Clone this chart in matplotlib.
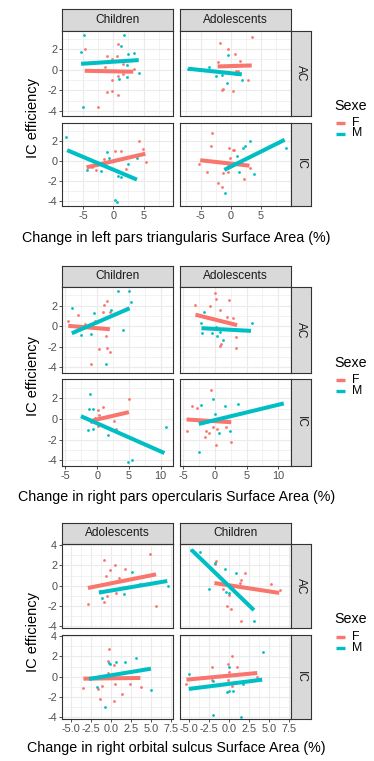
import matplotlib.pyplot as plt
from matplotlib.lines import Line2D

W, H = 374, 761
F_COL = "#F8766D"
M_COL = "#00BFC4"
GRID = "#EBEBEB"
DARK = "#333333"
FONT = "Liberation Sans"

# ================= DATA =================
# each entry: ([x ...], [y ...]); fits: ([x0, x1], [y0, y1])

# --- left pars triangularis ---
tri_ac_child_m = ([-4.9, 1.8, -5.3, 1.2, 2.4, 3.5, 2.2, 4.3, 1.0, 2.3, -5.0],
                  [3.4, 3.4, 1.68, 2.3, 1.5, 1.6, 0.48, -0.35, -0.87, -0.74, -3.65])
tri_ac_child_f = ([-4.7, 0.72, -1.1, 0.67, -0.17, 1.67, -1.28, 3.44, 1.67, 0.83, -0.28, -1.1, -0.28, 0.72, -2.5],
                  [2.03, 2.48, 1.29, 1.35, 1.03, 0.58, 0.23, 0.1, -0.39, -0.58, -0.97, -2.13, -2.03, -2.48, -3.65])
tri_ac_child_m_fit = ([-5.3, 4.2], [0.58, 0.94])
tri_ac_child_f_fit = ([-4.7, 3.3], [-0.10, -0.19])

tri_ac_ado_m = ([-7.2, -0.56, -3.6, -2.4, -1.56, -0.67, 0.89, 1.83],
                [0.05, 1.39, 0.23, -0.58, -0.55, -1.29, -0.42, -0.97])
tri_ac_ado_f = ([-1.83, 3.44, -0.44, 0.72, 1.5, -2.2, 0.0, 0.83, 1.1, 2.78, -1.4, -1.5, 0.39],
                [2.58, 3.16, 2.0, 1.58, 0.9, 0.74, 0.42, -0.16, -0.16, -1.03, -1.84, -1.97, -2.1])
tri_ac_ado_m_fit = ([-7.1, 1.8], [0.10, -0.45])
tri_ac_ado_f_fit = ([-2.2, 3.44], [0.32, 0.42])

tri_ic_child_m = ([-7.8, -4.4, -2.06, -1.1, -0.7, 3.9, 2.4, 0.83, 1.28, 0.28, 0.67],
                  [2.35, -0.9, -0.97, 0.9, 0.26, 0.26, -0.32, -1.55, -1.6, -3.94, -4.1])
tri_ic_child_f = ([4.17, 4.83, 5.4, 0.28, 1.28, -1.5, -2.8, -3.5, 2.1, -1.67],
                  [1.94, 1.19, -0.16, 0.97, 0.94, 0.16, -0.9, -0.65, -0.8, -0.3])
tri_ic_child_m_fit = ([-7.6, 3.9], [1.06, -1.87])
tri_ic_child_f_fit = ([-4.4, 5.3], [-0.65, 0.71])

tri_ic_ado_m = ([1.0, 1.94, 2.4, 3.17, 1.39, 3.78, 9.2, -1.0],
                [0.45, 1.23, 1.45, 1.94, -1.13, -1.35, 1.29, -3.23])
tri_ic_ado_f = ([-3.17, -3.33, -4.0, -0.28, 0.28, 0.56, -0.11, -0.56, -1.39, -0.44, -2.2, -1.56, 2.1, 3.1, -5.3],
                [2.8, 1.45, -1.13, 1.23, 1.06, 1.06, 0.26, -0.32, -1.23, -1.13, -2.2, -2.58, -1.77, -0.71, -0.32])
tri_ic_ado_m_fit = ([-1.1, 8.9], [-0.9, 2.1])
tri_ic_ado_f_fit = ([-5.1, 3.06], [0.06, -0.48])

# --- right pars opercularis ---
op_ac_child_m = ([3.35, 5.0, 5.3, -4.0, -0.47, 2.25, 4.1, -2.5, -1.0, 1.36],
                 [3.4, 3.4, 2.38, 1.73, 1.27, 1.57, -0.36, -0.88, -0.78, -3.7])
op_ac_child_f = ([-4.55, -3.1, 1.47, 1.15, 0.84, 2.0, -1.9, -0.3, 1.36, 1.6, 2.0, 0.3, -0.9],
                 [0.46, 1.1, 2.48, 2.06, 1.34, 1.34, 0.2, 0.5, -0.95, -2.1, -2.5, -2.2, -3.66])
op_ac_child_m_fit = ([-4.0, 5.1], [-0.69, 1.73])
op_ac_child_f_fit = ([-4.55, 2.0], [0.03, -0.3])

op_ac_ado_m = ([-1.78, -2.15, -2.0, -0.47, 0.2, 0.73, 0.37, 1.26, 5.8],
               [1.4, 0.26, -0.69, -0.62, -0.07, -0.56, -0.95, -1.34, 0.29])
op_ac_ado_f = ([-0.05, 0.1, 2.2, -3.2, -0.84, 0.84, 1.94, 2.9, 3.35, 3.25, 0.84, 1.0],
               [3.2, 2.6, 2.55, 2.06, 2.0, 1.6, 0.92, 0.75, -1.1, -2.12, -1.93, -1.76])
op_ac_ado_m_fit = ([-2.15, 5.7], [-0.2, -0.46])
op_ac_ado_f_fit = ([-3.1, 3.5], [1.11, 0.1])

op_ic_child_m = ([-1.1, -1.26, -0.63, -1.5, -0.73, 1.73, 10.8, 4.9, 5.45],
                 [2.37, 0.91, 0.91, -1.04, -0.97, -1.56, -0.81, -4.16, -4.0])
op_ic_child_f = ([5.0, 0.84, 0.1, 0.3, -0.42, -1.0, 0.05, 2.67, 2.9],
                 [1.95, 1.14, 0.88, 0.39, 0.1, -0.26, -0.65, -0.23, -0.97])
op_ic_child_m_fit = ([-2.56, 10.6], [0.26, -3.3])
op_ic_child_f_fit = ([-0.73, 5.0], [-0.16, 0.65])

op_ic_ado_m = ([-0.26, -2.25, 1.62, 3.6, -0.05, 0.63, 2.3, -2.56],
               [1.95, 1.36, 1.23, 1.46, 0.49, -1.36, -1.14, -3.18])
op_ic_ado_f = ([-0.68, -3.6, -2.9, -4.5, -1.36, -1.0, -0.3, 0.31, 0.1, -1.6, 2.57, 1.68],
               [2.82, 1.23, 1.06, -1.14, -1.14, -1.36, -0.81, -0.97, -2.53, -1.79, -2.21, -0.75])
op_ic_ado_m_fit = ([-2.56, 10.9], [-0.49, 1.49])
op_ic_ado_f_fit = ([-4.5, 2.57], [-0.06, -0.32])

# --- right orbital sulcus ---
orb_ac_ado_m = ([2.56, 3.55, 1.65, -1.2, 7.15, -1.45],
                [1.32, 0.2, -0.86, -1.22, -0.07, -0.5])
orb_ac_ado_f = ([-0.95, 0.45, -0.2, -0.66, 1.7, 0.95, 4.9, 0.54, -0.54, -0.9, -2.9, 5.6],
                [2.5, 2.07, 1.58, 0.92, 1.64, 0.76, 3.09, -0.69, -1.02, -1.64, -1.84, -2.04])
orb_ac_ado_m_fit = ([-1.53, 7.0], [-0.69, 0.46])
orb_ac_ado_f_fit = ([-2.9, 5.6], [-0.23, 1.12])

orb_ac_child_m = ([-4.7, -3.6, -1.74, -0.45, 0.87, -2.44, -0.37, 0.04, 3.14],
                  [3.49, 3.29, 2.24, 1.68, 1.25, -0.3, -0.62, -0.69, -3.52])
orb_ac_child_f = ([-1.6, -1.7, 1.98, 1.49, 1.4, 5.3, 6.45, -0.8, -0.04, -0.3, 0.25, 1.49],
                  [2.43, 2.1, 1.28, 0.53, 0.26, 0.2, -0.46, -0.3, -0.89, -2.04, -2.27, -3.49])
orb_ac_child_m_fit = ([-4.7, 3.14], [3.55, -2.43])
orb_ac_child_f_fit = ([-1.82, 6.3], [0.26, -0.72])

orb_ic_ado_m = ([-0.29, -0.17, 0.62, 1.7, 3.1, 5.0, -1.74, -0.79],
                [1.35, 1.25, 1.45, 1.41, 1.84, -1.35, -1.05, -3.03])
orb_ic_ado_f = ([-0.29, -0.37, 0.33, -0.37, 0.45, 2.31, 3.72, -1.2, -1.6, -1.4, 0.33, 1.36, -3.47],
                [2.76, 1.51, 1.15, 0.36, -0.72, -0.69, -1.02, -0.89, -1.22, -2.17, -2.37, -1.71, -1.12])
orb_ic_ado_m_fit = ([-2.77, 4.96], [-0.23, 0.79])
orb_ic_ado_f_fit = ([-3.47, 3.64], [-0.2, -0.13])

orb_ic_child_m = ([-5.04, 0.04, -1.94, -0.29, -0.04, 0.45, 1.82, 4.3, -2.0, 1.57],
                  [0.3, 0.95, -0.39, -1.51, -1.45, -1.38, -0.72, 2.43, -3.85, -3.98])
orb_ic_child_f = ([-2.15, 0.33, -0.08, 1.07, 0.04, -0.17, -2.1, 0.37, -5.33, 3.55],
                  [0.92, 2.0, 1.25, 0.92, 0.43, -0.3, -0.36, -0.89, -0.69, -0.07])
orb_ic_child_m_fit = ([-5.04, 4.17], [-1.22, -0.3])
orb_ic_child_f_fit = ([-5.33, 3.55], [-0.3, 0.36])

# axis breaks / labels
tri_xticks = [-5, 0, 5]
tri_xlabels = ["-5", "0", "5"]
op_xticks = [-5, 0, 5, 10]
op_xlabels = ["-5", "0", "5", "10"]
orb_xticks = [-5, -2.5, 0, 2.5, 5, 7.5]
orb_xlabels = ["-5.0", "-2.5", "0.0", "2.5", "5.0", "7.5"]
y_ticks_a = [-4, -2, 0, 2]
y_ticks_b = [-4, -2, 0, 2, 4]

rows = ["AC", "IC"]
sexes = ["F", "M"]

# ================= LAYOUT (pixels) =================
COL_X = [(62.3, 173.3), (180.3, 290.7)]
RSTRIP_X = (290.7, 311.0)

fig = plt.figure(figsize=(W / 100, H / 100), dpi=100)
fig.patch.set_facecolor("white")


def px_axes(x0, y0, x1, y1):
    return fig.add_axes([x0 / W, 1 - y1 / H, (x1 - x0) / W, (y1 - y0) / H])


def minor_between(ticks, lo, hi):
    step = ticks[1] - ticks[0]
    out = []
    t = ticks[0] - step / 2
    while t > lo:
        out.append(t)
        t -= step
    t = ticks[0] + step / 2
    while t < hi:
        out.append(t)
        t += step
    return out


def facet(ax, f_pts, m_pts, f_fit, m_fit, xlim, ylim, xt, xl, yt, show_x, show_y):
    ax.set_xlim(xlim)
    ax.set_ylim(ylim)
    ax.set_xticks(xt)
    ax.set_xticklabels(xl)
    ax.set_yticks(yt)
    ax.set_yticklabels([str(v) for v in yt])
    ax.set_xticks(minor_between(xt, *xlim), minor=True)
    ax.set_yticks(minor_between(yt, *ylim), minor=True)
    ax.grid(which="major", color=GRID, lw=0.8)
    ax.grid(which="minor", color=GRID, lw=0.45)
    ax.set_axisbelow(True)
    for s in ax.spines.values():
        s.set_color(DARK)
        s.set_linewidth(0.8)
    ax.tick_params(which="minor", length=0)
    ax.tick_params(which="major", length=2.5, width=0.6, color=DARK,
                   labelsize=7.8, labelcolor="#4D4D4D", pad=1.2)
    for lab in ax.get_xticklabels() + ax.get_yticklabels():
        lab.set_fontfamily(FONT)
    if not show_x:
        ax.tick_params(axis="x", length=0, labelbottom=False)
    if not show_y:
        ax.tick_params(axis="y", length=0, labelleft=False)
    ax.scatter(f_pts[0], f_pts[1], s=4, color=F_COL, lw=0, zorder=3)
    ax.scatter(m_pts[0], m_pts[1], s=4, color=M_COL, lw=0, zorder=3)
    ax.plot(f_fit[0], f_fit[1], color=F_COL, lw=2.9, solid_capstyle="butt", zorder=4)
    ax.plot(m_fit[0], m_fit[1], color=M_COL, lw=2.9, solid_capstyle="butt", zorder=4)


def strip(x0, y0, x1, y1, text, rot=0):
    sa = px_axes(x0, y0, x1, y1)
    sa.set_facecolor("#D9D9D9")
    sa.set_xticks([])
    sa.set_yticks([])
    for s in sa.spines.values():
        s.set_color(DARK)
        s.set_linewidth(0.8)
    sa.text(0.5, 0.5, text, ha="center", va="center", rotation=rot,
            fontsize=8.6, color="#1A1A1A", family=FONT, transform=sa.transAxes)


def block(strip_top, row_y, cols, facets, xlim, ylim, xt, xl, yt, xlabel, leg_y):
    for j, name in enumerate(cols):
        strip(COL_X[j][0], strip_top, COL_X[j][1], row_y[0][0], name)
    for i, r in enumerate(rows):
        y0, y1 = row_y[i]
        for j in range(2):
            ax = px_axes(COL_X[j][0], y0, COL_X[j][1], y1)
            f_pts, m_pts, f_fit, m_fit = facets[i][j]
            facet(ax, f_pts, m_pts, f_fit, m_fit, xlim, ylim, xt, xl, yt,
                  show_x=(i == 1), show_y=(j == 0))
        strip(RSTRIP_X[0], y0, RSTRIP_X[1], y1, r, rot=-90)
    # axis titles (centred on the panel area, strips excluded)
    xc = (COL_X[0][0] + COL_X[1][1]) / 2
    fig.text(xc / W, 1 - xlabel[1] / H, xlabel[0], ha="center", va="center",
             fontsize=10.3, family=FONT, color="black")
    yc = (row_y[0][0] + row_y[1][1]) / 2
    fig.text(33 / W, 1 - yc / H, "IC efficiency", ha="center", va="center",
             rotation=90, fontsize=10.5, family=FONT, color="black")
    # legend
    fig.text(334 / W, 1 - leg_y[0] / H, "Sexe", ha="left", va="center",
             fontsize=10.3, family=FONT)
    for k, (lab, col) in enumerate(zip(sexes, [F_COL, M_COL])):
        yy = 1 - leg_y[k + 1] / H
        fig.add_artist(Line2D([336 / W, 345 / W], [yy, yy], color=col, lw=2.4,
                              solid_capstyle="butt", transform=fig.transFigure))
        fig.text(352 / W, yy, lab, ha="left", va="center", fontsize=8.8, family=FONT)


block(9.3, [(30.7, 116.0), (122.7, 206.0)], ["Children", "Adolescents"],
      [[(tri_ac_child_f, tri_ac_child_m, tri_ac_child_f_fit, tri_ac_child_m_fit),
        (tri_ac_ado_f, tri_ac_ado_m, tri_ac_ado_f_fit, tri_ac_ado_m_fit)],
       [(tri_ic_child_f, tri_ic_child_m, tri_ic_child_f_fit, tri_ic_child_m_fit),
        (tri_ic_ado_f, tri_ic_ado_m, tri_ic_ado_f_fit, tri_ic_ado_m_fit)]],
      (-8.4, 9.9), (-4.5, 3.8), tri_xticks, tri_xlabels, y_ticks_a,
      ("Change in left pars triangularis Surface Area (%)", 238), (105.7, 123, 133.5))

block(265.5, [(287.0, 372.5), (379.5, 465.5)], ["Children", "Adolescents"],
      [[(op_ac_child_f, op_ac_child_m, op_ac_child_f_fit, op_ac_child_m_fit),
        (op_ac_ado_f, op_ac_ado_m, op_ac_ado_f_fit, op_ac_ado_m_fit)],
       [(op_ic_child_f, op_ic_child_m, op_ic_child_f_fit, op_ic_child_m_fit),
        (op_ic_ado_f, op_ic_ado_m, op_ic_ado_f_fit, op_ic_ado_m_fit)]],
      (-5.5, 12.0), (-4.5, 3.8), op_xticks, op_xlabels, y_ticks_a,
      ("Change in right pars opercularis Surface Area (%)", 497), (363, 380, 391.5))

block(523, [(544.0, 628.3), (635.0, 719.3)], ["Adolescents", "Children"],
      [[(orb_ac_ado_f, orb_ac_ado_m, orb_ac_ado_f_fit, orb_ac_ado_m_fit),
        (orb_ac_child_f, orb_ac_child_m, orb_ac_child_f_fit, orb_ac_child_m_fit)],
       [(orb_ic_ado_f, orb_ic_ado_m, orb_ic_ado_f_fit, orb_ic_ado_m_fit),
        (orb_ic_child_f, orb_ic_child_m, orb_ic_child_f_fit, orb_ic_child_m_fit)]],
      (-6.1, 7.75), (-4.23, 4.13), orb_xticks, orb_xlabels, y_ticks_b,
      ("Change in right orbital sulcus Surface Area (%)", 748), (619, 636.5, 648))

fig.savefig("out.png", dpi=100, facecolor="white")
